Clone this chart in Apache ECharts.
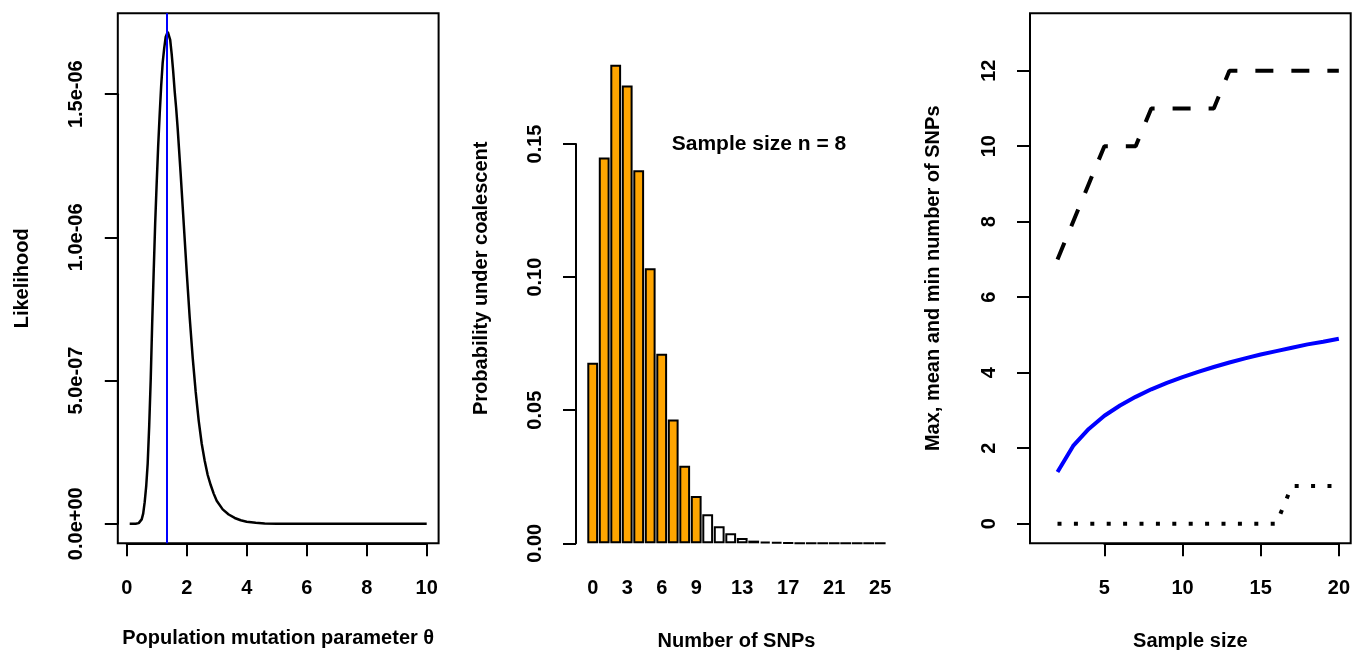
<!DOCTYPE html>
<html><head><meta charset="utf-8">
<script src="https://cdn.jsdelivr.net/npm/echarts@6/dist/echarts.min.js"></script>
<style>html,body{margin:0;padding:0;background:#fff}#c{width:1352px;height:650px}</style>
</head><body><div id="c"></div>
<script>
// ---------- Panel 1: likelihood curve (values in units of 1e-6) ----------
const thetaValues = [0.1,0.2,0.3,0.4,0.45,0.5,0.55,0.6,0.65,0.7,0.75,0.8,0.85,0.9,0.95,1.0,1.05,1.1,1.15,1.2,1.25,1.3,1.37,1.45,1.5,1.55,1.6,1.65,1.7,1.8,1.9,2.0,2.1,2.2,2.3,2.4,2.5,2.6,2.7,2.8,2.9,3.0,3.2,3.4,3.6,3.8,4.0,4.3,4.6,5.0,6.0,7.0,8.0,9.0,10.0];
const likelihoodE6 = [0,0,0,0.002,0.006,0.015,0.035,0.075,0.13,0.21,0.34,0.50,0.70,0.88,1.05,1.19,1.32,1.43,1.53,1.61,1.66,1.70,1.718,1.69,1.64,1.58,1.51,1.45,1.38,1.22,1.05,0.88,0.72,0.58,0.46,0.36,0.28,0.22,0.17,0.135,0.105,0.08,0.05,0.032,0.02,0.012,0.007,0.003,0.001,0,0,0,0,0,0];
const mleTheta = 1.355;
const leftXTickMin = 0, leftXTickMax = 10, leftXTickStep = 2;
const leftYTickMin = 0, leftYTickMax = 1.5, leftYTickStep = 0.5;
const leftYTickLabels = {'0':'0.0e+00','0.5':'5.0e-07','1':'1.0e-06','1.5':'1.5e-06'};

// ---------- Panel 2: distribution of number of SNPs ----------
const snpCounts = ['0','1','2','3','4','5','6','7','8','9','10','11','12','13','14','15','16','17','18','19','20','21','22','23','24','25'];
const snpProb = [0.0678,0.1449,0.1797,0.1719,0.1401,0.1033,0.0712,0.0465,0.0291,0.0178,0.0109,0.0064,0.0038,0.0020,0.0010,0.0006,0.0004,0.0002,0.0001,0.00006,0.00003,0.00002,0.00001,0.00001,0,0];
const highlightedCount = 10; // first bars filled orange
const middleShownLabels = ['0','3','6','9','13','17','21','25'];
const middleYTickMin = 0, middleYTickMax = 0.15, middleYTickStep = 0.05;

// ---------- Panel 3: max / mean / min number of SNPs vs sample size ----------
const sampleSizes = [2,3,4,5,6,7,8,9,10,11,12,13,14,15,16,17,18,19,20];
const maxSNPs  = [7,8,9,10,10,10,11,11,11,11,11,12,12,12,12,12,12,12,12];
const meanSNPs = [1.37,2.06,2.51,2.86,3.13,3.36,3.56,3.73,3.88,4.02,4.15,4.27,4.38,4.48,4.57,4.66,4.75,4.82,4.90];
const minSNPs  = [0,0,0,0,0,0,0,0,0,0,0,0,0,0,0,1,1,1,1];
const rightXTickMin = 5, rightXTickMax = 20, rightXTickStep = 5;
const rightYTickMin = 0, rightYTickMax = 12, rightYTickStep = 2;

const FONT = "'Liberation Sans', Arial, Helvetica, sans-serif";
const BLACK = '#000';
const chart = echarts.init(document.getElementById('c'), null, {renderer:'canvas'});

const axLine = {show:true, onZero:false, lineStyle:{color:BLACK,width:2}};
const axTick = {show:true, inside:false, length:13, lineStyle:{color:BLACK,width:2}};
const xLabel = {fontFamily:FONT,fontSize:20,fontWeight:'bold',color:BLACK,margin:35};
const yLabel = {fontFamily:FONT,fontSize:20,fontWeight:'bold',color:BLACK,rotate:90,margin:31};
const nameStyle = {fontFamily:FONT,fontSize:20,fontWeight:'bold',color:BLACK};
const hiddenAxis = (g)=>({gridIndex:g, type:'value', min:0, max:1, show:false});
const titleOnly = {axisLine:{show:false,onZero:false}, axisTick:{show:false}, axisLabel:{show:false}, splitLine:{show:false}};
const G = (o)=>Object.assign({containLabel:false, outerBoundsMode:'none'}, o);

const option = {
  animation:false,
  backgroundColor:'#fff',
  grid:[
    G({left:117.8, top:13.3, width:320.8, height:530, show:true, borderColor:BLACK, borderWidth:2}),
    G({left:126.7, top:13.3, width:300, height:530, show:false}),
    G({left:117.8, top:94.2, width:320.8, height:429.5, show:false}),
    G({left:586.95, top:13.3, width:299, height:530, show:false}),
    G({left:576, top:144, width:20, height:399.3, show:false}),
    G({left:1030, top:13.3, width:320.7, height:530, show:true, borderColor:BLACK, borderWidth:2}),
    G({left:1104.4, top:13.3, width:234.5, height:530, show:false}),
    G({left:1030, top:70.7, width:320.7, height:453, show:false})
  ],
  xAxis:[
    Object.assign({gridIndex:0, type:'value', min:-0.296, max:10.396,
      name:'Population mutation parameter θ', nameLocation:'middle', nameGap:85, nameTextStyle:nameStyle}, titleOnly),
    {gridIndex:1, type:'value', min:leftXTickMin, max:leftXTickMax, interval:leftXTickStep,
      axisLine:axLine, axisTick:axTick, axisLabel:xLabel, splitLine:{show:false}},
    hiddenAxis(2),
    {gridIndex:3, type:'category', data:snpCounts, boundaryGap:true,
      axisLine:{show:false,onZero:false}, axisTick:{show:false}, splitLine:{show:false},
      axisLabel:Object.assign({interval:(i,v)=>middleShownLabels.indexOf(v)>=0}, xLabel),
      name:'Number of SNPs', nameLocation:'middle', nameGap:88, nameTextStyle:nameStyle},
    hiddenAxis(4),
    Object.assign({gridIndex:5, type:'value', min:0.24, max:20.76,
      name:'Sample size', nameLocation:'middle', nameGap:88, nameTextStyle:nameStyle}, titleOnly),
    {gridIndex:6, type:'value', min:rightXTickMin, max:rightXTickMax, interval:rightXTickStep,
      axisLine:axLine, axisTick:axTick, axisLabel:xLabel, splitLine:{show:false}},
    hiddenAxis(7)
  ],
  yAxis:[
    Object.assign({gridIndex:0, type:'value', min:-0.0685, max:1.7825,
      name:'Likelihood', nameLocation:'middle', nameGap:85, nameTextStyle:nameStyle}, titleOnly),
    hiddenAxis(1),
    {gridIndex:2, type:'value', min:leftYTickMin, max:leftYTickMax, interval:leftYTickStep,
      axisLine:axLine, axisTick:axTick, splitLine:{show:false},
      axisLabel:Object.assign({formatter:(v)=>leftYTickLabels[String(+v.toFixed(2))] || ''}, yLabel)},
    Object.assign({gridIndex:3, type:'value', min:0, max:0.199,
      name:'Probability under coalescent', nameLocation:'middle', nameGap:95, nameTextStyle:nameStyle}, titleOnly),
    {gridIndex:4, type:'value', min:middleYTickMin, max:middleYTickMax, interval:middleYTickStep,
      axisLine:axLine, axisTick:axTick, splitLine:{show:false},
      axisLabel:Object.assign({formatter:(v)=>v.toFixed(2)}, yLabel)},
    Object.assign({gridIndex:5, type:'value', min:-0.52, max:13.52,
      name:'Max, mean and min number of SNPs', nameLocation:'middle', nameGap:87, nameTextStyle:nameStyle}, titleOnly),
    hiddenAxis(6),
    {gridIndex:7, type:'value', min:rightYTickMin, max:rightYTickMax, interval:rightYTickStep,
      axisLine:axLine, axisTick:axTick, splitLine:{show:false}, axisLabel:yLabel}
  ],
  series:[
    {type:'line', xAxisIndex:0, yAxisIndex:0, showSymbol:false, smooth:false,
     data:thetaValues.map((t,i)=>[t, likelihoodE6[i]]),
     lineStyle:{color:BLACK, width:2.5},
     markLine:{silent:true, symbol:'none', label:{show:false},
       lineStyle:{color:'#0000FF', width:2, type:'solid'},
       data:[{xAxis:mleTheta}]}},
    {type:'bar', xAxisIndex:3, yAxisIndex:3, barCategoryGap:'6%',
     data:snpProb.map((p,i)=>({value:p, itemStyle:{color:i<highlightedCount?'#FFA500':'#FFFFFF'}})),
     itemStyle:{borderColor:BLACK, borderWidth:2}},
    {type:'line', xAxisIndex:5, yAxisIndex:5, showSymbol:false,
     data:sampleSizes.map((n,i)=>[n, maxSNPs[i]]),
     lineStyle:{color:BLACK, width:4, type:[18,18], cap:'butt'}},
    {type:'line', xAxisIndex:5, yAxisIndex:5, showSymbol:false,
     data:sampleSizes.map((n,i)=>[n, meanSNPs[i]]),
     lineStyle:{color:'#0000FF', width:4}},
    {type:'line', xAxisIndex:5, yAxisIndex:5, showSymbol:false,
     data:sampleSizes.map((n,i)=>[n, minSNPs[i]]),
     lineStyle:{color:BLACK, width:4, type:[4,12.4], cap:'butt'}}
  ],
  graphic:[
    {type:'text', x:759, y:144.3, style:{text:'Sample size n = 8', fontFamily:FONT, fontSize:21, fontWeight:'bold', fill:BLACK, align:'center', verticalAlign:'middle'}}
  ]
};
chart.setOption(option);
</script></body></html>
